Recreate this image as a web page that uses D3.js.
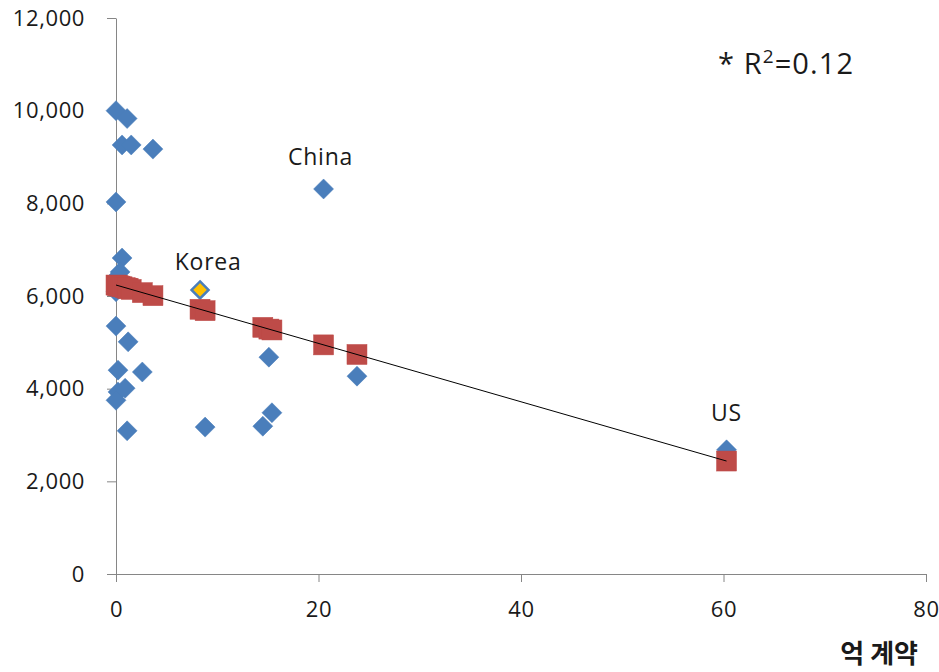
<!DOCTYPE html>
<html>
<head>
<meta charset="utf-8">
<script src="https://cdn.jsdelivr.net/npm/d3@7"></script>
<style>
  html, body { margin: 0; padding: 0; background: #fff; }
  svg { display: block; }
  text { font-family: "Open Sans", "Noto Sans", sans-serif; fill: #1a1a1a; }
</style>
</head>
<body>
<svg id="chart" width="939" height="672"></svg>
<script>
// Observed values: x = 억 계약, y = value
const obsX = [0, 1.1, 0.6, 1.5, 3.65, 0, 0.6, 20.5, 0.1, 0.4, 0, 8.3,
              0, 1.2, 0.2, 2.6, 0.9, 0.2, 0, 1.1, 8.8, 14.5, 15.4, 15.1, 23.8, 60.3];
const obsY = [10000, 9830, 9260, 9260, 9170, 8030, 6820, 8310, 6410, 6520, 6090, 6130,
              5350, 5010, 4400, 4360, 4010, 3930, 3750, 3090, 3170, 3190, 3480, 4680, 4270, 2680];
// Highlighted observation (Korea)
const highlightIndex = 11;

// Fitted values on the regression line
const fitX = [0, 0.1, 0.2, 0.4, 0.6, 0.9, 1.1, 1.2, 1.5, 2.6, 3.65, 8.3, 8.8,
              14.5, 15.1, 15.4, 20.5, 23.8, 60.3];
const fitY = [6237, 6231, 6224, 6212, 6199, 6180, 6168, 6161, 6142, 6073, 6007, 5714, 5683,
              5323, 5286, 5267, 4945, 4738, 2438];

// Trend line end points
const trendX = [0, 60.3];
const trendY = [6237, 2438];

// Axis ticks
const xTicks = [0, 20, 40, 60, 80];
const yTicks = [0, 2000, 4000, 6000, 8000, 10000, 12000];

// Point labels
const labelNames = ["China", "Korea", "US"];
const labelX = [20.2, 9.1, 60.3];
const labelY = [8830, 6560, 3300];

const svg = d3.select("#chart");
const x = d3.scaleLinear().domain([0, 80]).range([116, 926]);
const y = d3.scaleLinear().domain([0, 12000]).range([574, 18]);

const axisColor = "#868686";
const fmt = d3.format(",");

// Y axis
const yAxis = svg.append("g")
  .attr("transform", `translate(${x(0)},0)`)
  .call(d3.axisLeft(y).tickValues(yTicks).tickFormat(fmt).tickSize(9).tickSizeOuter(0).tickPadding(22));
yAxis.select(".domain").attr("stroke", axisColor);
yAxis.selectAll(".tick line").attr("stroke", axisColor);
yAxis.selectAll(".tick text")
  .attr("font-size", 22).attr("fill", "#1a1a1a")
  .attr("letter-spacing", 0.6)
  .attr("font-family", "'Open Sans', 'Noto Sans', sans-serif");

// X axis
const xAxis = svg.append("g")
  .attr("transform", `translate(0,${y(0)})`)
  .call(d3.axisBottom(x).tickValues(xTicks).tickFormat(fmt).tickSize(8).tickSizeOuter(0).tickPadding(19));
xAxis.select(".domain").attr("stroke", axisColor);
xAxis.selectAll(".tick line").attr("stroke", axisColor);
xAxis.selectAll(".tick text")
  .attr("font-size", 22).attr("fill", "#1a1a1a")
  .attr("letter-spacing", 0.6)
  .attr("font-family", "'Open Sans', 'Noto Sans', sans-serif");

// Observed points as diamonds
const r = 10;
const diamond = `M0,${-r}L${r},0L0,${r}L${-r},0Z`;
const obs = obsX.map((v, i) => ({ x: v, y: obsY[i], i }));
svg.append("g").selectAll("path")
  .data(obs.filter(d => d.i !== highlightIndex))
  .join("path")
  .attr("d", diamond)
  .attr("transform", d => `translate(${x(d.x)},${y(d.y)})`)
  .attr("fill", "#4A7EBB")
  .attr("stroke", "#4A7EBB")
  .attr("stroke-width", 0.5);

const hl = obs[highlightIndex];
const rh = 8.5;
svg.append("path")
  .attr("d", `M0,${-rh}L${rh},0L0,${rh}L${-rh},0Z`)
  .attr("transform", `translate(${x(hl.x)},${y(hl.y)})`)
  .attr("fill", "#FFC000")
  .attr("stroke", "#4A7EBB")
  .attr("stroke-width", 2.5);

// Fitted points as squares
const s = 20;
const fit = fitX.map((v, i) => ({ x: v, y: fitY[i] }));
svg.append("g").selectAll("rect")
  .data(fit)
  .join("rect")
  .attr("x", d => x(d.x) - s / 2)
  .attr("y", d => y(d.y) - s / 2)
  .attr("width", s)
  .attr("height", s)
  .attr("fill", "#BE4B48")
  .attr("stroke", "#BE4B48")
  .attr("stroke-width", 0.5);

// Trend line
svg.append("line")
  .attr("x1", x(trendX[0])).attr("y1", y(trendY[0]))
  .attr("x2", x(trendX[1])).attr("y2", y(trendY[1]))
  .attr("stroke", "#000")
  .attr("stroke-width", 1);

// Point labels
svg.append("g").selectAll("text")
  .data(labelNames.map((n, i) => ({ n, x: labelX[i], y: labelY[i] })))
  .join("text")
  .attr("x", d => x(d.x))
  .attr("y", d => y(d.y))
  .attr("text-anchor", "middle")
  .attr("font-size", 23)
  .attr("letter-spacing", 0.8)
  .text(d => d.n);

// R-squared annotation
const r2 = svg.append("text")
  .attr("x", 718).attr("y", 74)
  .attr("font-size", 29)
  .attr("letter-spacing", 1.1);
r2.append("tspan").text("* R");
r2.append("tspan").attr("dy", -11).attr("font-size", 19).text("2");
r2.append("tspan").attr("dy", 11).text("=0.12");

// X axis title
svg.append("text")
  .attr("x", 918).attr("y", 663)
  .attr("text-anchor", "end")
  .attr("font-size", 26)
  .attr("font-weight", "bold")
  .style("font-family", "'Noto Sans CJK KR', sans-serif")
  .text("억 계약");
</script>
</body>
</html>
